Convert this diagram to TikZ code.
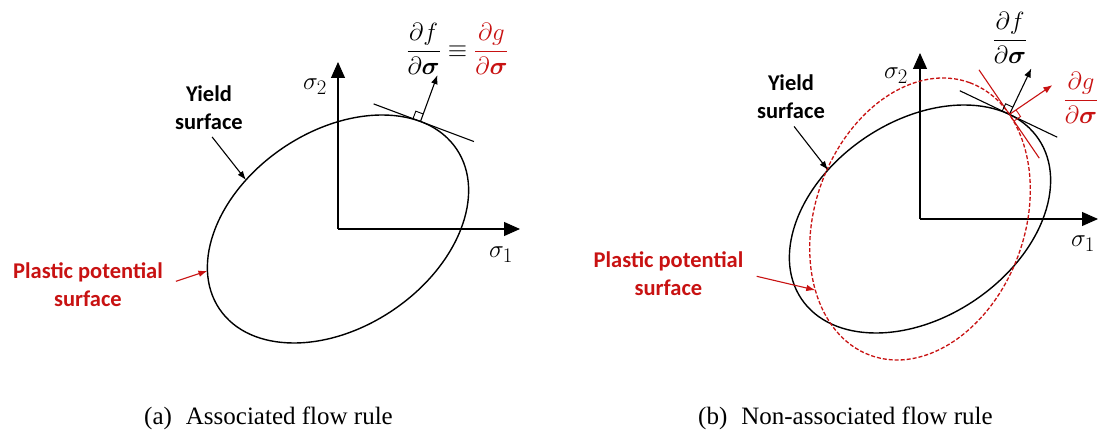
\documentclass[tikz,border=0pt]{standalone}
\usepackage{amsmath,amssymb}
\usepackage{bm}
\usepackage{fontspec}
\setmainfont{Liberation Serif}
\setsansfont{Carlito}
\usepackage{xcolor}
\usepackage{tikz}
\usetikzlibrary{arrows.meta,calc}
\definecolor{ppred}{RGB}{200,18,18}

\begin{document}
\begin{tikzpicture}[x=1pt,y=1pt,>=Latex,
    surf/.style={line width=1.4pt},
    axis/.style={line width=1.1pt,-{Triangle[length=16pt,width=14pt]}},
    tang/.style={line width=1.1pt},
    normal/.style={line width=1.1pt,-{Latex[length=9pt,width=7pt]}},
    pointer/.style={line width=1.1pt,-{Latex[length=9pt,width=6.5pt]}},
    sq/.style={line width=0.9pt},
    lbl/.style={font=\sffamily\bfseries\fontsize{22.5}{28}\selectfont,align=center},
    mlbl/.style={font=\fontsize{26}{30}\selectfont},
    axlbl/.style={font=\fontsize{28}{32}\selectfont},
    captxt/.style={font=\fontsize{25}{30}\selectfont,anchor=base west,inner sep=0pt}]
    \useasboundingbox (0,0) rectangle (1100,434);

    % (a) associated flow rule
    \coordinate (Oa) at (338,205);
    \coordinate (s2a) at (338,372);
    \coordinate (s1a) at (520,205);
    \draw[axis] (Oa) -- (s2a);
    \draw[axis] (Oa) -- (s1a);
    \node[axlbl] at (315,347) {$\sigma_2$};
    \node[axlbl] at (501,179) {$\sigma_1$};
    \begin{scope}[shift={(Oa)},rotate=34]
        \draw[surf] (0,0) ellipse [x radius=143pt, y radius=98pt];
        \coordinate (Pa) at (128.5,43.0);
        \coordinate (na) at (168.5,72.0);
        \coordinate (ta1) at (99.5,83.75);
        \coordinate (ta2) at (161.6,-3.5);
        \coordinate (sqa1) at (123.86,49.52);
        \coordinate (sqa2) at (130.38,54.16);
        \coordinate (sqa3) at (135.02,47.64);
        \coordinate (ya) at (-48.9,92.1);
        \coordinate (ppa-end) at (-131.6,38.3);
    \end{scope}
    \draw[tang] (ta1) -- (ta2);
    \draw[normal] (Pa) -- (na);
    \draw[sq] (sqa1) -- (sqa2) -- (sqa3);
    \node[mlbl] (fa) at (457.5,385)
        {$\dfrac{\partial f}{\partial\bm{\sigma}}\equiv{\color{ppred}\dfrac{\partial g}{\partial\bm{\sigma}}}$};
    \node[lbl] (yla) at (209,326.5) {Yield\\surface};
    \node[lbl, text=ppred] (ppa) at (88,149.5) {Plastic potential\\surface};
    \draw[pointer, shorten <=5pt] (yla.south) -- (ya);
    \draw[pointer, ppred, shorten <=10pt] (ppa.east) -- (ppa-end);

    % (b) non-associated flow rule
    \coordinate (Ob) at (920,215);
    \coordinate (s2b) at (920,381);
    \coordinate (s1b) at (1098,215);
    \draw[axis] (Ob) -- (s2b);
    \draw[axis] (Ob) -- (s1b);
    \node[axlbl] at (896,358) {$\sigma_2$};
    \node[axlbl] at (1083,190) {$\sigma_1$};
    \begin{scope}[shift={(Ob)},rotate=34]
        \draw[surf] (0,0) ellipse [x radius=143pt, y radius=98pt];
        \coordinate (Pb) at (132.6,36.7);
        \coordinate (nb) at (176.5,62.6);
        \coordinate (tb1) at (104.7,84.1);
        \coordinate (tb2) at (159.5,-8.9);
        \coordinate (sqb1) at (128.54,43.59);
        \coordinate (sqb2) at (135.43,47.65);
        \coordinate (sqb3) at (139.49,40.76);
        \coordinate (yb) at (-48.9,92.1);
    \end{scope}
    \begin{scope}[shift={(Ob)},rotate=70]
        \draw[ppred, line width=1.3pt, dash pattern=on 4pt off 2pt] (0,0) ellipse [x radius=145.1pt, y radius=104.8pt];
        \coordinate (ng) at (171.07,-78.59);
        \coordinate (tg1) at (160.34,-4.40);
        \coordinate (tg2) at (97.93,-91.31);
        \coordinate (sqg1) at (124.17,-54.76);
        \coordinate (sqg2) at (130.67,-59.42);
        \coordinate (sqg3) at (135.34,-52.93);
        \coordinate (ppb-end) at (-102.6,74.1);
    \end{scope}
    \draw[tang] (tb1) -- (tb2);
    \draw[tang, ppred] (tg1) -- (tg2);
    \draw[normal] (Pb) -- (nb);
    \draw[normal, ppred] (Pb) -- (ng);
    \draw[sq] (sqb1) -- (sqb2) -- (sqb3);
    \draw[sq, ppred] (sqg1) -- (sqg2) -- (sqg3);
    \node[mlbl] (fb) at (1010,396) {$\dfrac{\partial f}{\partial\bm{\sigma}}$};
    \node[mlbl, text=ppred] (gb) at (1081,336) {$\dfrac{\partial g}{\partial\bm{\sigma}}$};
    \node[lbl] (ylb) at (791,337) {Yield\\surface};
    \node[lbl, text=ppred] (ppb) at (668.5,160) {Plastic potential\\surface};
    \draw[pointer, shorten <=5pt] (ylb.south) -- (yb);
    \draw[pointer, ppred, shorten <=10pt] (ppb.east) -- (ppb-end);

    % captions
    \node[captxt] (capa) at (144,10) {(a)\hspace{0.56em}Associated flow rule};
    \node[captxt] (capb) at (698,10) {(b)\hspace{0.56em}Non-associated flow rule};
\end{tikzpicture}
\end{document}
